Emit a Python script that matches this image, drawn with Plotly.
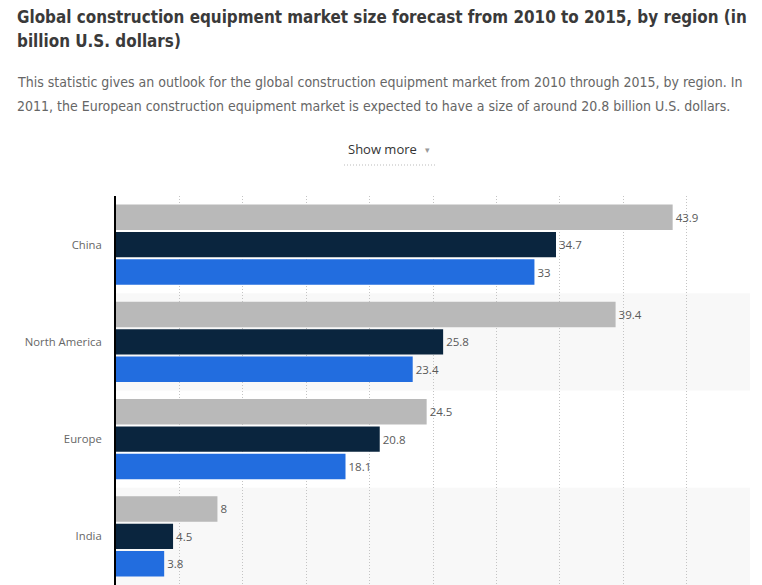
import plotly.graph_objects as go

categories = ["China", "North America", "Europe", "India"]
series_names = ["2015", "2011", "2010"]
values_2015 = [43.9, 39.4, 24.5, 8]
values_2011 = [34.7, 25.8, 20.8, 4.5]
values_2010 = [33, 23.4, 18.1, 3.8]
series_values = [values_2015, values_2011, values_2010]
series_colors = ["#b9b9b9", "#0a253e", "#226ddf"]
x_ticks = [0, 5, 10, 15, 20, 25, 30, 35, 40, 45, 50]

title_lines = ["Global construction equipment market size forecast from 2010 to 2015, by region (in",
               "billion U.S. dollars)"]
desc_lines = ["This statistic gives an outlook for the global construction equipment market from 2010 through 2015, by region. In",
              "2011, the European construction equipment market is expected to have a size of around 20.8 billion U.S. dollars."]

W, H = 762, 585
L, R, T, B = 116, 12, 196, 0

fig = go.Figure()
for name, vals, col in zip(series_names, series_values, series_colors):
    fig.add_trace(go.Bar(
        y=categories, x=vals, name=name, orientation="h",
        marker=dict(color=col, line=dict(width=0)),
        text=[f"{v:g}" for v in vals], textposition="outside",
        textfont=dict(family="Open Sans", size=11.5, color="#595959"),
        cliponaxis=False,
    ))

shapes = []
for i, c in enumerate(categories):
    if i % 2 == 1:
        shapes.append(dict(type="rect", xref="paper", yref="y", layer="below",
                           x0=0, x1=1, y0=i - 0.5, y1=i + 0.5,
                           fillcolor="#f8f8f8", line=dict(width=0)))

ph = H - T - B
def py(y):
    return (H - B - y) / ph
pw = W - L - R
def px(x):
    return (x - L) / pw

annotations = []
for txt, yc in zip(title_lines, [16.5, 40.5]):
    annotations.append(dict(text="<b>" + txt + "</b>", xref="paper", yref="paper",
                            x=px(15), y=py(yc), xanchor="left", yanchor="middle",
                            showarrow=False,
                            font=dict(family="DejaVu Sans Condensed", size=16.9, color="#3a3a3a")))
for txt, yc in zip(desc_lines, [82.5, 106]):
    annotations.append(dict(text=txt, xref="paper", yref="paper",
                            x=px(15), y=py(yc), xanchor="left", yanchor="middle",
                            showarrow=False,
                            font=dict(family="DejaVu Sans Condensed", size=14, color="#666666")))
annotations += [
    dict(text="Show more", xref="paper", yref="paper", x=px(382), y=py(149),
         xanchor="center", yanchor="middle", showarrow=False,
         font=dict(family="Open Sans", size=13, color="#333333")),
    dict(text="▾", xref="paper", yref="paper", x=px(427), y=py(150),
         xanchor="center", yanchor="middle", showarrow=False,
         font=dict(family="DejaVu Sans", size=9, color="#999999")),
]
shapes.append(dict(type="line", xref="paper", yref="paper",
                   x0=px(344), x1=px(437), y0=py(165), y1=py(165),
                   line=dict(color="#bbbbbb", width=1, dash="1px,2px")))

fig.update_layout(
    width=W, height=H,
    margin=dict(l=L, r=R, t=T, b=B, pad=0),
    paper_bgcolor="white", plot_bgcolor="white",
    barmode="group", bargap=0.155, bargroupgap=0.07,
    showlegend=False,
    xaxis=dict(range=[0, 50], tickvals=x_ticks, showticklabels=False,
               showgrid=True, gridcolor="#c4c4c4", griddash="1px,2px", gridwidth=1,
               zeroline=False, showline=False, fixedrange=True),
    yaxis=dict(autorange="reversed", showline=True, linecolor="#000000", linewidth=2,
               ticks="", ticklabelstandoff=10, showgrid=False,
               tickfont=dict(family="Open Sans", size=11.3, color="#666666")),
    shapes=shapes, annotations=annotations,
)

fig.write_html("out.html", config={"displayModeBar": False},
               post_script="document.body.style.margin='0';")
